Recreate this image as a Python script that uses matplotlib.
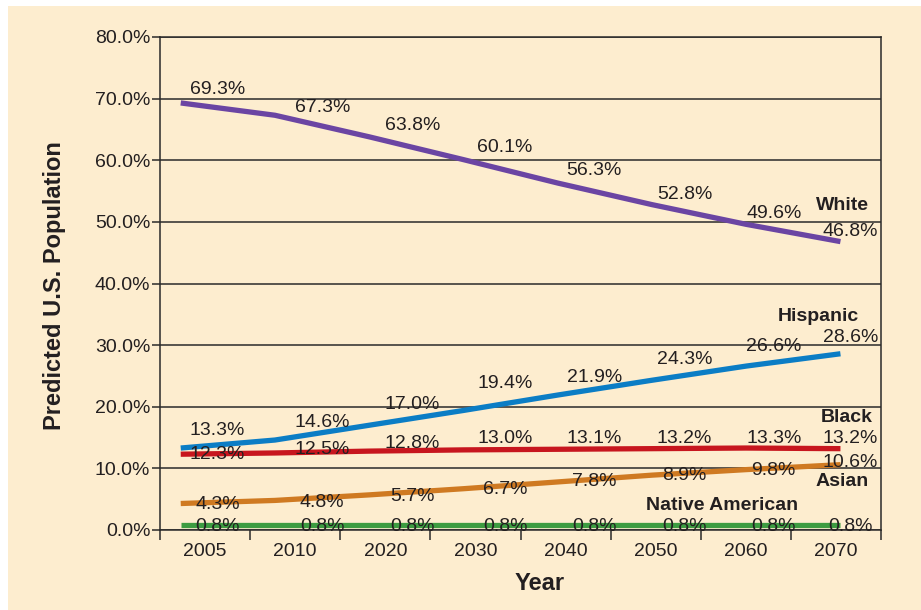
import matplotlib
matplotlib.use("Agg")
import matplotlib.pyplot as plt
import numpy as np
from matplotlib.patches import Rectangle

# data (percent of U.S. population)
years = ["2005", "2010", "2020", "2030", "2040", "2050", "2060", "2070"]
white = [69.3, 67.3, 63.8, 60.1, 56.3, 52.8, 49.6, 46.8]
hispanic = [13.3, 14.6, 17.0, 19.4, 21.9, 24.3, 26.6, 28.6]
black = [12.3, 12.5, 12.8, 13.0, 13.1, 13.2, 13.3, 13.2]
asian = [4.3, 4.8, 5.7, 6.7, 7.8, 8.9, 9.8, 10.6]
native = [0.8, 0.8, 0.8, 0.8, 0.8, 0.8, 0.8, 0.8]

plt.rcParams['font.family'] = ['Liberation Sans', 'DejaVu Sans']
txt = "#231f20"
cream = "#fdedcf"

fig = plt.figure(figsize=(9.21, 6.10), dpi=100)
fig.patch.set_facecolor("white")
fig.patches.append(Rectangle((8/921, 0), 1, 1 - 6/610, transform=fig.transFigure,
                             facecolor=cream, edgecolor="none", zorder=-10))

ax = fig.add_axes([160/921, 1 - 530/610, 721/921, 493/610])
ax.set_facecolor(cream)

n = len(years)
line_x = np.linspace(0.23, 7.55, n)  # where the points sit inside each category
label_x = np.array([0.64, 1.80, 2.80, 3.83, 4.82, 5.82, 6.81, 7.66])

# series, colour, label offsets (in % units), name label position
series = [
  ("White", white, "#6b45a3", [2.1, 1.2, 1.9, 1.9, 2.1, 1.6, 1.8, 1.6], (7.57, 52.6)),
  ("Hispanic", hispanic, "#0b7dc5", [2.9, 2.9, 3.3, 4.3, 2.9, 3.3, 3.1, 2.6], (7.30, 34.6)),
  ("Black", black, "#c7161e", [-0.1, 0.5, 1.3, 1.9, 1.8, 1.7, 1.6, 1.7], (7.62, 18.2)),
  ("Asian", asian, "#cf7a22", [-0.2, -0.3, -0.3, -0.2, 0.0, 0.0, -0.2, 0.3], (7.57, 7.8)),
  ("Native American", native, "#3d9c41", [-0.3] * 8, (6.24, 3.9)),
]

for name, vals, col, dy, npos in series:
  ax.plot(line_x, vals, color=col, lw=3.8, solid_capstyle="butt", zorder=4)
  for i in range(n):
    ax.text(label_x[i], vals[i] + dy[i], "%.1f%%" % vals[i], ha="center", va="center",
            fontsize=14, color=txt, zorder=6)
  ax.text(npos[0], npos[1], name, ha="center", va="center", fontsize=14,
          fontweight="bold", color=txt, zorder=6)

ax.set_xlim(0, n)
ax.set_ylim(0, 80)
ax.set_yticks(np.arange(0, 81, 10))
ax.set_yticklabels(["%.1f%%" % v for v in np.arange(0, 81, 10)])
ax.yaxis.grid(True, color="#2a2a2a", lw=1.1)
ax.set_axisbelow(True)

ax.set_xticks(np.arange(0, n + 1))
ax.set_xticklabels([])
ax.set_xticks(np.arange(n) + 0.5, minor=True)
ax.set_xticklabels(years, minor=True)
ax.tick_params(axis="x", which="major", length=7, width=1.1, color="#2a2a2a")
ax.tick_params(axis="x", which="minor", length=0, pad=9, labelsize=14, labelcolor=txt)
ax.tick_params(axis="y", length=6, width=1.1, color="#2a2a2a", pad=1, labelsize=14,
               labelcolor=txt)

for s in ax.spines.values():
  s.set_color("#2a2a2a")
  s.set_linewidth(1.1)

fig.text(55/921, 1 - 286/610, "Predicted U.S. Population", rotation=90, ha="center",
         va="center", fontsize=17, fontweight="bold", color=txt)
fig.text(540/921, 1 - 584/610, "Year", ha="center", va="center", fontsize=17,
         fontweight="bold", color=txt)

fig.savefig("out.png", dpi=100, facecolor=fig.get_facecolor())
